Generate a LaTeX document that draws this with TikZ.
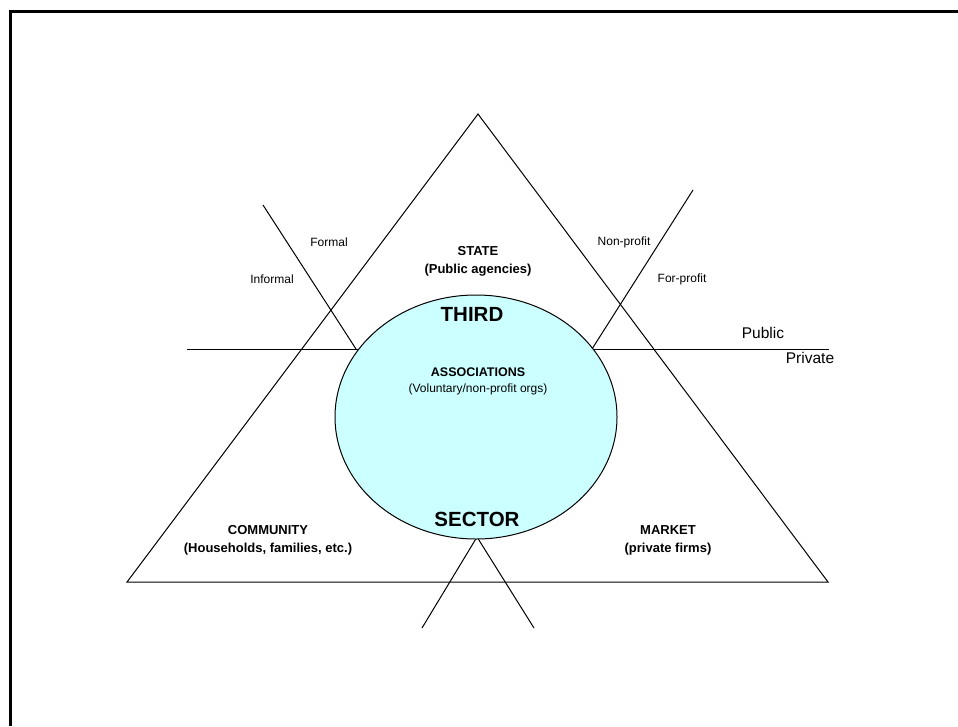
\documentclass[tikz,border=0pt]{standalone}
\usepackage{fontspec}
\setmainfont{Liberation Sans}
\usetikzlibrary{shapes.geometric}
\definecolor{thirdfill}{HTML}{CCFFFF}
\begin{document}
\begin{tikzpicture}[x=1pt,y=-1pt,
  thinline/.style={draw=black,line width=1pt},
  sectorlbl/.style={font=\fontsize{13}{15}\selectfont\bfseries,align=center,inner sep=0pt},
  sidelbl/.style={font=\fontsize{12}{14}\selectfont,inner sep=0pt},
  axislbl/.style={font=\fontsize{15.5}{17}\selectfont,inner sep=0pt},
  biglbl/.style={font=\fontsize{20.5}{23}\selectfont\bfseries,inner sep=0pt}]
\useasboundingbox (0,0) rectangle (958,726);
% outer frame
\draw[line width=3pt] (10,726) -- (10,11) -- (958,11);

% triangle corners
\coordinate (apex) at (478,114);
\coordinate (bl) at (127,582);
\coordinate (br) at (828,582);
\draw[thinline,line join=miter] (apex) -- (bl) -- (br) -- cycle;

% public / private divide
\coordinate (hl) at (187,349);
\coordinate (hr) at (829,349);
\draw[thinline] (hl) -- (hr);

% formal / informal and profit dividers
\coordinate (ftop) at (263,205);
\coordinate (fbot) at (356,349);
\coordinate (ptop) at (693,190);
\coordinate (pbot) at (592,349);
\draw[thinline] (ftop) -- (fbot);
\draw[thinline] (ptop) -- (pbot);

% lower divider
\coordinate (vtip) at (477,537);
\coordinate (vl) at (422,628);
\coordinate (vr) at (534,628);
\draw[thinline] (vl) -- (vtip) -- (vr);

% third sector
\node[ellipse,draw=black,line width=1pt,fill=thirdfill,minimum width=282pt,minimum height=244pt,inner sep=0pt] (third) at (476,417) {};

% labels
\node[biglbl] (thirdlbl) at (472,314) {THIRD};
\node[biglbl] (sectorlbl) at (477,519) {SECTOR};
\node[font=\fontsize{12.5}{14}\selectfont\bfseries,inner sep=0pt] (assoc) at (478,372) {ASSOCIATIONS};
\node[font=\fontsize{12}{14}\selectfont,inner sep=0pt] (assocsub) at (478,389) {(Voluntary/non-profit orgs)};

\node[sectorlbl] (state) at (478,261) {STATE\\[3pt](Public agencies)};
\node[sectorlbl] (community) at (268,540) {COMMUNITY\\[3pt](Households, families, etc.)};
\node[sectorlbl] (market) at (668,540) {MARKET\\[3pt](private firms)};

\node[sidelbl] (formal) at (329,242) {Formal};
\node[sidelbl] (informal) at (272,279) {Informal};
\node[sidelbl] (nonprofit) at (624,242) {Non-profit};
\node[sidelbl] (forprofit) at (682,279) {For-profit};

\node[axislbl] (public) at (763,333) {Public};
\node[axislbl] (private) at (810,358) {Private};
\end{tikzpicture}
\end{document}
